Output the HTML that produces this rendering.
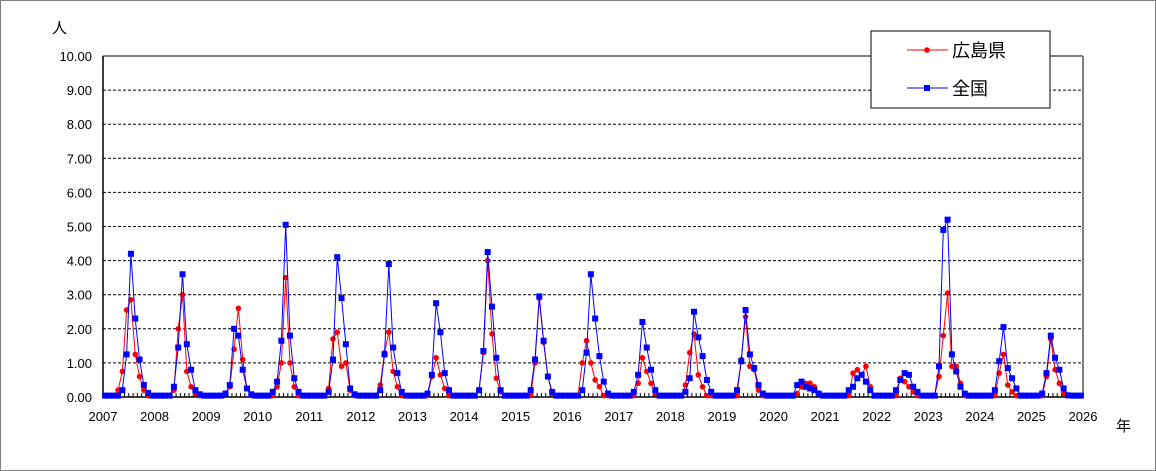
<!DOCTYPE html>
<html><head><meta charset="utf-8"><style>
html,body{margin:0;padding:0;background:#fff;}
svg{display:block;font-family:"Liberation Sans","Noto Sans CJK JP",sans-serif;}
</style></head><body>
<svg id="s" width="1156" height="471" xmlns="http://www.w3.org/2000/svg">
<rect x="0.5" y="0.5" width="1155" height="470" fill="#fff" stroke="#808080"/>
</svg>
<script>
const s=document.getElementById('s');let h='';
const X0=103,X1=1083,Y0=397,YS=34.1,YW=(X1-X0)/19;
const y=v=>Y0-v*YS;
for(let i=1;i<=10;i++){h+=`<line x1="${X0}" x2="${X1}" y1="${y(i)}" y2="${y(i)}" stroke="#000" stroke-dasharray="3,2" stroke-width="1"/>`;}
h+=`<line x1="${X1}" x2="${X1}" y1="${y(10)}" y2="${Y0}" stroke="#808080" stroke-width="2"/>`;
h+=`<line x1="${X0}" x2="${X1}" y1="${y(10)}" y2="${y(10)}" stroke="#808080" stroke-width="2"/>`;
h+=`<line x1="${X0}" x2="${X0}" y1="${y(10)}" y2="${Y0}" stroke="#000" stroke-width="1.5"/>`;
h+=`<line x1="${X0}" x2="${X1}" y1="${Y0}" y2="${Y0}" stroke="#000" stroke-width="1.5"/>`;
for(let m=0;m<=228;m++){const x=X0+m*YW/12;h+=`<line x1="${x}" x2="${x}" y1="${Y0-4}" y2="${Y0}" stroke="#000"/>`;}
for(let i=0;i<=10;i++)h+=`<text x="92" y="${y(i)+5}" font-size="13" text-anchor="end">${i.toFixed(2)}</text>`;
for(let i=0;i<=19;i++)h+=`<text x="${X0+i*YW}" y="421" font-size="13" text-anchor="middle">${2007+i}</text>`;
h+=`<text x="52" y="33" font-size="15">人</text><text x="1116" y="431" font-size="15">年</text>`;
const N={2007:{4:0.2,5:1.25,6:4.2,7:2.3,8:1.1,9:0.35,10:0.12},2008:{4:0.3,5:1.45,6:3.6,7:1.55,8:0.8,9:0.2,10:0.08},2009:{4:0.1,5:0.35,6:2.0,7:1.8,8:0.8,9:0.25,10:0.08},2010:{3:0.15,4:0.45,5:1.65,6:5.05,7:1.8,8:0.55,9:0.15},2011:{4:0.15,5:1.1,6:4.1,7:2.9,8:1.55,9:0.25,10:0.08},2012:{4:0.2,5:1.25,6:3.9,7:1.45,8:0.7,9:0.15},2013:{3:0.1,4:0.65,5:2.75,6:1.9,7:0.7,8:0.2},2014:{3:0.2,4:1.35,5:4.25,6:2.65,7:1.15,8:0.2},2015:{3:0.2,4:1.1,5:2.95,6:1.65,7:0.6,8:0.15},2016:{3:0.2,4:1.3,5:3.6,6:2.3,7:1.2,8:0.45,9:0.1},2017:{3:0.15,4:0.65,5:2.2,6:1.45,7:0.8,8:0.2},2018:{3:0.15,4:0.55,5:2.5,6:1.75,7:1.2,8:0.5,9:0.15},2019:{3:0.2,4:1.05,5:2.55,6:1.25,7:0.85,8:0.35,9:0.1},2020:{5:0.35,6:0.45,7:0.3,8:0.25,9:0.2,10:0.1},2021:{5:0.2,6:0.3,7:0.55,8:0.65,9:0.45,10:0.2},2022:{4:0.2,5:0.5,6:0.7,7:0.65,8:0.3,9:0.15},2023:{2:0.9,3:4.9,4:5.2,5:1.25,6:0.75,7:0.3,8:0.1},2024:{3:0.2,4:1.05,5:2.05,6:0.85,7:0.55,8:0.25},2025:{2:0.1,3:0.7,4:1.8,5:1.15,6:0.8,7:0.25,8:0.05}};
const H={2007:{3:0.2,4:0.75,5:2.55,6:2.85,7:1.25,8:0.6,9:0.2},2008:{4:0.2,5:2.0,6:3.0,7:0.75,8:0.3,9:0.1},2009:{4:0.1,5:0.3,6:1.4,7:2.6,8:1.1,9:0.25},2010:{4:0.3,5:1.0,6:3.5,7:1.0,8:0.3},2011:{4:0.25,5:1.7,6:1.9,7:0.9,8:1.0,9:0.2},2012:{4:0.35,5:1.3,6:1.9,7:0.75,8:0.3},2013:{4:0.6,5:1.15,6:0.65,7:0.25},2014:{3:0.2,4:1.3,5:4.0,6:1.85,7:0.55,8:0.15},2015:{4:1.0,5:2.9,6:1.6,7:0.6,8:0.1},2016:{3:1.0,4:1.65,5:1.0,6:0.5,7:0.3},2017:{4:0.4,5:1.15,6:0.75,7:0.4,8:0.1},2018:{3:0.35,4:1.3,5:1.85,6:0.65,7:0.3},2019:{4:1.1,5:2.35,6:0.9,7:0.8,8:0.2},2020:{5:0.1,6:0.3,7:0.4,8:0.4,9:0.3,10:0.1},2021:{6:0.7,7:0.8,8:0.65,9:0.9,10:0.3},2022:{5:0.55,6:0.45,7:0.3,8:0.15},2023:{2:0.6,3:1.8,4:3.05,5:0.9,6:0.9,7:0.4},2024:{4:0.7,5:1.25,6:0.35,7:0.15},2025:{3:0.6,4:1.7,5:0.8,6:0.4,7:0.1}};
function ser(D){const p=[];for(let yr=2007;yr<=2025;yr++)for(let m=0;m<12;m++){const v=(D[yr]&&D[yr][m]!==undefined)?D[yr][m]:0.04;p.push([X0+((yr-2007)*12+m+0.5)*YW/12,y(v)]);}return p;}
const hp=ser(H),np=ser(N);
h+=`<polyline fill="none" stroke="#f00" stroke-width="1" points="${hp.map(p=>p.join(',')).join(' ')}"/>`;
hp.forEach(p=>h+=`<circle cx="${p[0]}" cy="${p[1]}" r="2.8" fill="#f00"/>`);
h+=`<polyline fill="none" stroke="#00f" stroke-width="1" points="${np.map(p=>p.join(',')).join(' ')}"/>`;
np.forEach(p=>h+=`<rect x="${p[0]-3}" y="${p[1]-3}" width="6" height="6" fill="#00f"/>`);
h+=`<rect x="871" y="31" width="179" height="77" fill="#fff" stroke="#000"/>`;
h+=`<line x1="907" x2="948" y1="50" y2="50" stroke="#f00"/><circle cx="927" cy="50" r="2.8" fill="#f00"/><text x="952" y="57" font-size="18">広島県</text>`;
h+=`<line x1="907" x2="948" y1="88" y2="88" stroke="#00f"/><rect x="924" y="85" width="6" height="6" fill="#00f"/><text x="952" y="95" font-size="18">全国</text>`;
s.innerHTML+=h;
</script>
</body></html>
